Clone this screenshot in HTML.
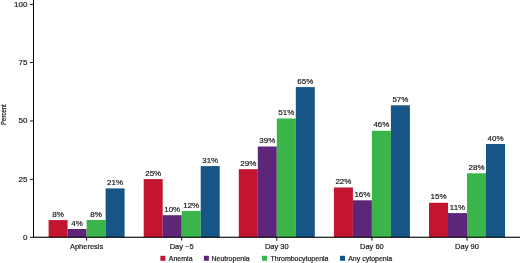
<!DOCTYPE html>
<html><head><meta charset="utf-8"><style>
html,body{margin:0;padding:0;background:#fff;}
body{width:520px;height:263px;overflow:hidden;}
svg{display:block;will-change:transform;}
text{font-family:"Liberation Sans",sans-serif;fill:#1a1a1a;stroke:#1a1a1a;stroke-width:0.2px;}
</style></head><body>
<svg width="520" height="263" viewBox="0 0 520 263">

<rect x="48.60" y="220.10" width="19" height="17.20" fill="#C41530"/>
<rect x="67.60" y="229.00" width="19" height="8.30" fill="#5E2678"/>
<rect x="86.60" y="220.00" width="19" height="17.30" fill="#3AB54A"/>
<rect x="105.60" y="188.40" width="19" height="48.90" fill="#165586"/>
<rect x="143.70" y="179.10" width="19" height="58.20" fill="#C41530"/>
<rect x="162.70" y="215.20" width="19" height="22.10" fill="#5E2678"/>
<rect x="181.70" y="211.00" width="19" height="26.30" fill="#3AB54A"/>
<rect x="200.70" y="166.10" width="19" height="71.20" fill="#165586"/>
<rect x="238.80" y="169.20" width="19" height="68.10" fill="#C41530"/>
<rect x="257.80" y="146.50" width="19" height="90.80" fill="#5E2678"/>
<rect x="276.80" y="118.50" width="19" height="118.80" fill="#3AB54A"/>
<rect x="295.80" y="87.10" width="19" height="150.20" fill="#165586"/>
<rect x="333.90" y="187.50" width="19" height="49.80" fill="#C41530"/>
<rect x="352.90" y="200.30" width="19" height="37.00" fill="#5E2678"/>
<rect x="371.90" y="130.80" width="19" height="106.50" fill="#3AB54A"/>
<rect x="390.90" y="105.30" width="19" height="132.00" fill="#165586"/>
<rect x="429.00" y="202.80" width="19" height="34.50" fill="#C41530"/>
<rect x="448.00" y="213.10" width="19" height="24.20" fill="#5E2678"/>
<rect x="467.00" y="173.30" width="19" height="64.00" fill="#3AB54A"/>
<rect x="486.00" y="144.00" width="19" height="93.30" fill="#165586"/>
<text x="58.10" y="216.70" font-size="8" text-anchor="middle">8%</text>
<text x="77.10" y="225.60" font-size="8" text-anchor="middle">4%</text>
<text x="96.10" y="216.60" font-size="8" text-anchor="middle">8%</text>
<text x="115.10" y="185.00" font-size="8" text-anchor="middle">21%</text>
<text x="153.20" y="175.70" font-size="8" text-anchor="middle">25%</text>
<text x="172.20" y="211.80" font-size="8" text-anchor="middle">10%</text>
<text x="191.20" y="207.60" font-size="8" text-anchor="middle">12%</text>
<text x="210.20" y="162.70" font-size="8" text-anchor="middle">31%</text>
<text x="248.30" y="165.80" font-size="8" text-anchor="middle">29%</text>
<text x="267.30" y="143.10" font-size="8" text-anchor="middle">39%</text>
<text x="286.30" y="115.10" font-size="8" text-anchor="middle">51%</text>
<text x="305.30" y="83.70" font-size="8" text-anchor="middle">65%</text>
<text x="343.40" y="184.10" font-size="8" text-anchor="middle">22%</text>
<text x="362.40" y="196.90" font-size="8" text-anchor="middle">16%</text>
<text x="381.40" y="127.40" font-size="8" text-anchor="middle">46%</text>
<text x="400.40" y="101.90" font-size="8" text-anchor="middle">57%</text>
<text x="438.50" y="199.40" font-size="8" text-anchor="middle">15%</text>
<text x="457.50" y="209.70" font-size="8" text-anchor="middle">11%</text>
<text x="476.50" y="169.90" font-size="8" text-anchor="middle">28%</text>
<text x="495.50" y="140.60" font-size="8" text-anchor="middle">40%</text>
<rect x="33" y="0" width="1" height="237.8" fill="#000"/>
<rect x="33" y="236.7" width="487" height="1.1" fill="#000"/>
<rect x="30" y="3.90" width="3" height="1" fill="#111"/>
<text x="27.4" y="7.00" font-size="8" text-anchor="end">100</text>
<rect x="30" y="62.00" width="3" height="1" fill="#111"/>
<text x="27.4" y="65.10" font-size="8" text-anchor="end">75</text>
<rect x="30" y="120.50" width="3" height="1" fill="#111"/>
<text x="27.4" y="123.00" font-size="8" text-anchor="end">50</text>
<rect x="30" y="178.90" width="3" height="1" fill="#111"/>
<text x="27.4" y="182.00" font-size="8" text-anchor="end">25</text>
<rect x="30" y="236.80" width="3" height="1" fill="#111"/>
<text x="27.4" y="239.90" font-size="8" text-anchor="end">0</text>
<rect x="86.10" y="237" width="1" height="3.6" fill="#111"/>
<text x="86.60" y="249.3" font-size="7.5" text-anchor="middle">Apheresis</text>
<rect x="181.20" y="237" width="1" height="3.6" fill="#111"/>
<text x="181.70" y="249.3" font-size="7.5" text-anchor="middle">Day −5</text>
<rect x="276.30" y="237" width="1" height="3.6" fill="#111"/>
<text x="276.80" y="249.3" font-size="7.5" text-anchor="middle">Day 30</text>
<rect x="371.40" y="237" width="1" height="3.6" fill="#111"/>
<text x="371.90" y="249.3" font-size="7.5" text-anchor="middle">Day 60</text>
<rect x="466.50" y="237" width="1" height="3.6" fill="#111"/>
<text x="467.00" y="249.3" font-size="7.5" text-anchor="middle">Day 90</text>
<text transform="translate(6.2,114.6) rotate(-90) scale(0.8,1)" x="0" y="0" font-size="7.5" text-anchor="middle">Percent</text>
<rect x="160.4" y="255.8" width="5" height="5" fill="#C41530"/>
<text x="168.8" y="260.8" font-size="7">Anemia</text>
<rect x="203.9" y="255.8" width="5" height="5" fill="#5E2678"/>
<text x="211.5" y="260.8" font-size="7">Neutropenia</text>
<rect x="262" y="255.8" width="5" height="5" fill="#3AB54A"/>
<text x="270.5" y="260.8" font-size="7">Thrombocytopenia</text>
<rect x="340" y="255.8" width="5" height="5" fill="#165586"/>
<text x="348.2" y="260.8" font-size="7">Any cytopenia</text>
</svg>
</body></html>
